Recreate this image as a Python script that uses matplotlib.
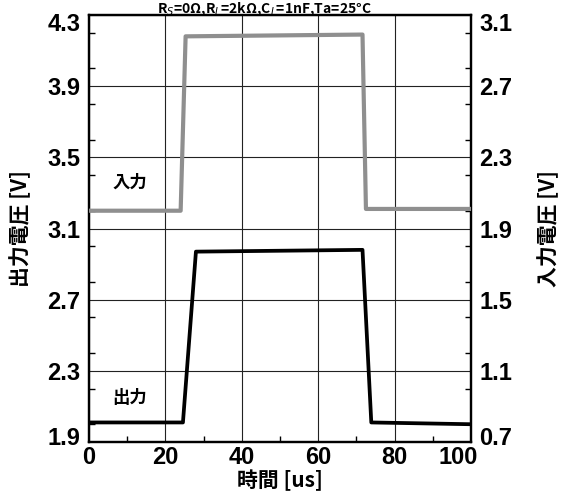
import matplotlib.pyplot as plt
from matplotlib.ticker import MultipleLocator
from matplotlib.transforms import ScaledTranslation
from matplotlib import font_manager

# Pulse response data (time in us, voltage in V)
t_in = [0, 24.0, 25.3, 71.6, 72.5, 100]
v_in = [2.00, 2.00, 2.98, 2.99, 2.01, 2.01]

t_out = [0, 24.6, 28.0, 71.6, 73.9, 100]
v_out = [2.01, 2.01, 2.97, 2.98, 2.01, 2.00]

x_ticks = [0, 20, 40, 60, 80, 100]
left_ticks = [1.9, 2.3, 2.7, 3.1, 3.5, 3.9, 4.3]
right_ticks = [0.7, 1.1, 1.5, 1.9, 2.3, 2.7, 3.1]

names = {f.name for f in font_manager.fontManager.ttflist}
num_font = 'Liberation Sans Narrow' if 'Liberation Sans Narrow' in names else 'Liberation Sans'
jp_font = ['Noto Sans CJK JP', 'DejaVu Sans']

plt.rcParams['font.family'] = [num_font, 'Noto Sans CJK JP', 'DejaVu Sans']

fig = plt.figure(figsize=(5.63, 4.98), dpi=100)
ax = fig.add_axes([0.158, 0.1124, 0.6786, 0.8575])
ax2 = ax.twinx()

ax.plot(t_out, v_out, color='black', lw=2.7, solid_joinstyle='round', zorder=3)
ax2.plot(t_in, v_in, color='#8f8f8f', lw=3.0, solid_joinstyle='round', zorder=3)

ax.set_xlim(0, 100)
ax.set_ylim(1.9, 4.3)
ax2.set_ylim(0.7, 3.1)

ax.set_xticks(x_ticks)
ax.set_yticks(left_ticks)
ax2.set_yticks(right_ticks)
ax.xaxis.set_minor_locator(MultipleLocator(10))
ax.yaxis.set_minor_locator(MultipleLocator(0.2))
ax2.yaxis.set_minor_locator(MultipleLocator(0.2))

ax.grid(True, which='major', color='#222222', lw=0.8)

for a in (ax, ax2):
    a.tick_params(which='both', direction='in', labelsize=17, width=1)
    a.tick_params(which='major', length=0, pad=6)
    a.tick_params(which='minor', length=4)
    for s in a.spines.values():
        s.set_linewidth(1.6)
    for lab in a.get_xticklabels() + a.get_yticklabels():
        lab.set_fontweight('bold')
ax.tick_params(axis='x', pad=3)


def nudge(label, dx, dy):
    # shift a tick label by (dx, dy) points
    label.set_transform(label.get_transform() +
                        ScaledTranslation(dx / 72, dy / 72, fig.dpi_scale_trans))


# pull the corner labels in so they don't collide
nudge(ax.yaxis.get_major_ticks()[0].label1, 0, 4)
nudge(ax.yaxis.get_major_ticks()[-1].label1, 0, -5)
nudge(ax2.yaxis.get_major_ticks()[0].label2, 0, 4)
nudge(ax2.yaxis.get_major_ticks()[-1].label2, 0, -5)
nudge(ax.xaxis.get_major_ticks()[-1].label1, -9, 0)

ax.set_ylabel('出力電圧 [V]', family=jp_font, fontweight='bold', fontsize=15, labelpad=12)
ax2.set_ylabel('入力電圧 [V]', family=jp_font, fontweight='bold', fontsize=15, labelpad=18)
ax.set_xlabel('時間 [us]', family=jp_font, fontweight='bold', fontsize=15, labelpad=0)

ax.text(10.7, 3.36, '入力', family=jp_font, fontweight='bold', fontsize=12.5,
        ha='center', va='center')
ax.text(10.7, 2.15, '出力', family=jp_font, fontweight='bold', fontsize=12.5,
        ha='center', va='center')

# Test condition header above the plot frame
fig.text(0.47, 0.999, r'R$_S$=0Ω,R$_L$=2kΩ,C$_L$=1nF,Ta=25°C', ha='center',
         va='top', fontsize=10, fontweight='bold', family=jp_font)

fig.savefig('out.png', dpi=100)
